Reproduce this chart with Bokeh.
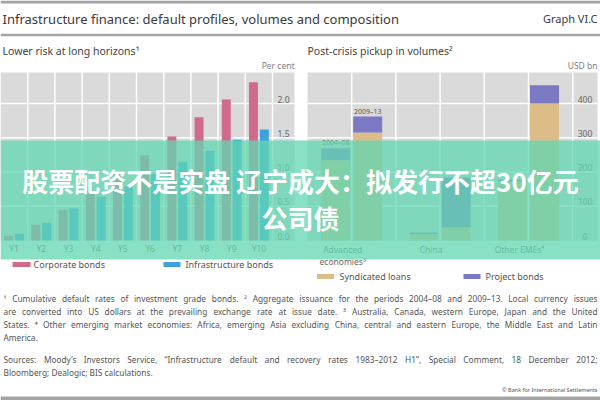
from bokeh.plotting import figure
from bokeh.models import Range1d
from bokeh.core.properties import value
from bokeh.embed import file_html
from bokeh.resources import INLINE

# ---------------- data ----------------
horizons = ["Y1", "Y2", "Y3", "Y4", "Y5", "Y6", "Y7", "Y8", "Y9", "Y10"]
corporate_bonds = [0.07, 0.23, 0.45, 0.73, 1.00, 1.24, 1.52, 1.80, 2.06, 2.31]
infrastructure_bonds = [0.10, 0.26, 0.47, 0.64, 0.79, 0.97, 1.15, 1.31, 1.47, 1.62]
left_ticks = [0.0, 0.5, 1.0, 1.5, 2.0]
left_tick_labels = ["0.0", "0.5", "1.0", "1.5", "2.0"]

regions = ["Advanced\neconomies³", "China", "Other EMEs⁴"]
periods = ["2004–08", "2009–13"]
syndicated_2004_08 = [234, 18, 172]
project_2004_08 = [35, 5, 6]
syndicated_2009_13 = [315, 38, 400]
project_2009_13 = [47, 146, 53]
right_ticks = [0, 100, 200, 300, 400]
right_tick_labels = ["0", "100", "200", "300", "400"]

# ---------------- style / layout ----------------
W, H = 600, 400
FONT = "Noto Sans"
CJK = "Noto Sans CJK SC"
PANEL_BG = "#dadada"
PINK = "#d06b8d"
BLUE = "#3fa0db"
GOLD = "#dcbc88"
PURPLE = "#7b78c4"

Y_TOP, Y_BASE = 72, 240            # pixel rows of panel top / zero line
L_X0, L_CAT, L_X1, L_LAB = 0.0, 27.2, 294, 283
L_PX = 68.5                        # px per per-cent
R_X0, R_CAT, R_X1, R_LAB = 307.0, 88.4, 597, 584.5
R_PX = 0.3425                      # px per USD bn

p = figure(width=W, height=H, x_range=Range1d(0, W), y_range=Range1d(H, 0),
           x_axis_type=None, y_axis_type=None, toolbar_location=None,
           output_backend="svg", min_border=0, outline_line_color=None,
           background_fill_color="white", border_fill_color="white")
p.xgrid.visible = False
p.ygrid.visible = False

p.extra_x_ranges = {
    "lx": Range1d(-0.5 - L_X0 / L_CAT, (W - L_X0) / L_CAT - 0.5),
    "rx": Range1d(-0.5 - R_X0 / R_CAT, (W - R_X0) / R_CAT - 0.5),
}
p.extra_y_ranges = {
    "ly": Range1d((Y_BASE - H) / L_PX, Y_BASE / L_PX),
    "ry": Range1d((Y_BASE - H) / R_PX, Y_BASE / R_PX),
}


def lx(px):
    return (px - L_X0) / L_CAT - 0.5


def rx(px):
    return (px - R_X0) / R_CAT - 0.5


L = dict(x_range_name="lx", y_range_name="ly")
R = dict(x_range_name="rx", y_range_name="ry")

# ---------------- page frame ----------------
p.segment(x0=[0, 0, 0], x1=[W, W, W], y0=[1.5, 34.5, 398], y1=[1.5, 34.5, 398],
          line_color="#a4a4a4", line_width=[3, 2.5, 4])
p.text(x=[2], y=[18], text=["Infrastructure finance: default profiles, volumes and composition"],
       text_font=value(FONT), text_font_size="13px", text_color="#3a3a3a",
       text_baseline="middle", text_align="left")
p.text(x=[597], y=[18], text=["Graph VI.C"], text_font=value(FONT), text_font_size="11px",
       text_color="#3a3a3a", text_baseline="middle", text_align="right")
p.text(x=[2, 307], y=[50, 50], text=["Lower risk at long horizons¹", "Post-crisis pickup in volumes²"],
       text_font=value(FONT), text_font_size="10.5px", text_color="#444444",
       text_baseline="middle", text_align="left")
p.text(x=[294, 597], y=[65, 65], text=["Per cent", "USD bn"], text_font=value(FONT),
       text_font_size="8.5px", text_color="#808080", text_baseline="middle", text_align="right")

# ---------------- left panel ----------------
l_top = (Y_BASE - Y_TOP) / L_PX
p.quad(left=[lx(L_X0)], right=[lx(L_X1)], bottom=[0], top=[l_top],
       fill_color=PANEL_BG, line_color=None, **L)
p.segment(x0=[lx(L_X0)] * 4, x1=[lx(L_X1)] * 4, y0=left_ticks[1:], y1=left_ticks[1:],
          line_color="white", line_width=1.5, **L)
vx = [i + 0.5 for i in range(len(horizons))]
p.segment(x0=vx, x1=vx, y0=[0] * len(vx), y1=[l_top] * len(vx),
          line_color="white", line_width=1.5, **L)
idx = list(range(len(horizons)))
p.vbar(x=[i - 0.2 for i in idx], top=corporate_bonds, bottom=0, width=0.33,
       fill_color=PINK, line_color=None, **L)
p.vbar(x=[i + 0.2 for i in idx], top=infrastructure_bonds, bottom=0, width=0.33,
       fill_color=BLUE, line_color=None, **L)
p.text(x=[lx(L_LAB)] * len(left_ticks), y=left_ticks, text=left_tick_labels,
       text_font=value(FONT), text_font_size="8.5px", text_color="#666666",
       text_align="center", text_baseline="bottom", y_offset=-1, **L)
p.text(x=idx, y=[0] * len(idx), text=horizons, text_font=value(FONT), text_font_size="8.5px",
       text_color="#666666", text_align="center", text_baseline="middle", y_offset=8, **L)

# ---------------- right panel ----------------
r_top = (Y_BASE - Y_TOP) / R_PX
p.quad(left=[rx(R_X0)], right=[rx(R_X1)], bottom=[0], top=[r_top],
       fill_color=PANEL_BG, line_color=None, **R)
p.segment(x0=[rx(R_X0)] * 4, x1=[rx(R_X1)] * 4, y0=right_ticks[1:], y1=right_ticks[1:],
          line_color="white", line_width=1.5, **R)
rv = [0.5 * k for k in range(6)]
p.segment(x0=rv, x1=rv, y0=[0] * 6, y1=[r_top] * 6, line_color="white", line_width=1.5, **R)
ridx = list(range(len(regions)))
x_a = [i - 0.181 for i in ridx]
x_b = [i + 0.181 for i in ridx]
tot_a = [s + q for s, q in zip(syndicated_2004_08, project_2004_08)]
tot_b = [s + q for s, q in zip(syndicated_2009_13, project_2009_13)]
p.vbar(x=x_a, bottom=0, top=syndicated_2004_08, width=0.328, fill_color=GOLD, line_color=None, **R)
p.vbar(x=x_a, bottom=syndicated_2004_08, top=tot_a, width=0.328, fill_color=PURPLE, line_color=None, **R)
p.vbar(x=x_b, bottom=0, top=syndicated_2009_13, width=0.328, fill_color=GOLD, line_color=None, **R)
p.vbar(x=x_b, bottom=syndicated_2009_13, top=tot_b, width=0.328, fill_color=PURPLE, line_color=None, **R)
p.text(x=[x_a[0], x_b[0]], y=[tot_a[0], tot_b[0]], text=periods, text_font=value(FONT),
       text_font_size="7px", text_color="#555555", text_align="center",
       text_baseline="bottom", y_offset=-1, **R)
p.text(x=[rx(R_LAB)] * len(right_ticks), y=right_ticks, text=right_tick_labels,
       text_font=value(FONT), text_font_size="8.5px", text_color="#666666",
       text_align="center", text_baseline="bottom", y_offset=-1, **R)
p.text(x=ridx, y=[0] * len(ridx), text=regions, text_font=value(FONT), text_font_size="8.5px",
       text_color="#666666", text_align="center", text_baseline="top", y_offset=3,
       x_offset=-9, text_line_height=1.1, **R)

# ---------------- legends ----------------
p.rect(x=[21, 171.5, 325, 471.5], y=[264, 264, 276, 276], width=[18, 17, 17, 17], height=5,
       fill_color=[PINK, BLUE, GOLD, PURPLE], line_color=None)
p.text(x=[33, 185, 339, 485], y=[264, 264, 276, 276],
       text=["Corporate bonds", "Infrastructure bonds", "Syndicated loans", "Project bonds"],
       text_font=value(FONT), text_font_size="9px", text_color="#555555",
       text_align="left", text_baseline="middle")

# ---------------- footnotes (justified like the original) ----------------
NOTE_SIZE = 8.3
CW = {" ": .26, "!": .268, "'": .233, "(": .296, ")": .296, ",": .25, "-": .322, ".": .266,
      "/": .372, ":": .266, ";": .266, "–": .5, "’": .166, "“": .385, "”": .385,
      "¹": .37, "²": .37, "³": .37, "⁴": .37}
CW.update({d: .572 for d in "0123456789"})
CW.update(dict(zip("ABCDEFGHIJKLMNOPQRSTUVWXYZ",
                   [.639, .65, .632, .729, .556, .518, .728, .738, .329, .267, .618, .522, .907,
                    .762, .779, .603, .779, .623, .549, .553, .728, .601, .937, .586, .571, .562])))
CW.update(dict(zip("abcdefghijklmnopqrstuvwxyz",
                   [.561, .615, .48, .615, .564, .344, .615, .618, .258, .258, .539, .258, .935,
                    .618, .605, .615, .615, .413, .479, .361, .618, .508, .786, .529, .51, .47])))


def est_width(s):
    return sum(CW.get(c, .56) for c in s) * NOTE_SIZE


notes = [
    ("¹ Cumulative default rates of investment grade bonds.   ² Aggregate issuance for the periods 2004–08 and 2009–13. Local currency issues", True),
    ("are converted into US dollars at the prevailing exchange rate at issue date.   ³ Australia, Canada, western Europe, Japan and the United", True),
    ("States.   ⁴ Other emerging market economies: Africa, emerging Asia excluding China, central and eastern Europe, the Middle East and Latin", True),
    ("America.", False),
    ("Sources: Moody’s Investors Service, “Infrastructure default and recovery rates 1983–2012 H1”, Special Comment, 18 December 2012;", True),
    ("Bloomberg; Dealogic; BIS calculations.", False),
]
note_y = [298, 311, 324, 337, 359, 372]
X0, X1 = 3, 597
wx, wy, wt, wa = [], [], [], []
for (line, just), yy in zip(notes, note_y):
    if not just:
        wx.append(X0); wy.append(yy); wt.append(line); wa.append("left")
        continue
    words = line.split()
    widths = [est_width(w) for w in words]
    gap = (X1 - X0 - sum(widths)) / (len(words) - 1)
    x = X0
    for k, (w, ww) in enumerate(zip(words, widths)):
        if k == len(words) - 1:
            wx.append(X1); wa.append("right")
        else:
            wx.append(x); wa.append("left")
        wy.append(yy); wt.append(w)
        x += ww + gap
p.text(x=wx, y=wy, text=wt, text_align=wa, text_font=value(FONT),
       text_font_size=f"{NOTE_SIZE}px", text_color="#555555", text_baseline="middle")
p.text(x=[597], y=[389], text=["© Bank for International Settlements"], text_font=value(FONT),
       text_font_size="5.5px", text_color="#555555", text_align="right", text_baseline="middle")

# ---------------- banner overlay ----------------
p.quad(left=[0], right=[W], top=[140], bottom=[259], fill_color="#62d7b2", fill_alpha=0.75,
       line_color=None)
p.text(x=[300, 300], y=[180, 217], text=["股票配资不是实盘 辽宁成大：拟发行不超30亿元", "公司债"],
       text_font=value(CJK), text_font_size="26px", text_font_style="bold",
       text_color="white", text_align="center", text_baseline="middle")

open("out.html", "w").write(file_html(p, INLINE))
